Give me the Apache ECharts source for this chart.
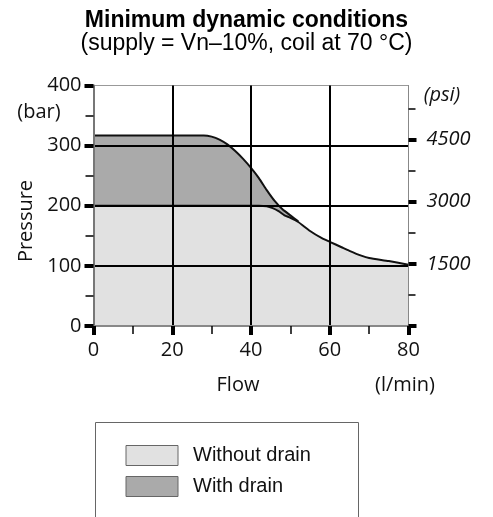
<!DOCTYPE html>
<html>
<head>
<meta charset="utf-8">
<script src="https://cdn.jsdelivr.net/npm/echarts@6/dist/echarts.min.js"></script>
<style>
html,body{margin:0;padding:0;background:#fff;}
#c{width:493px;height:517px;}
</style>
</head>
<body>
<div id="c"></div>
<script>
// Data
var withoutFlow = [0, 42, 44, 45.5, 47, 48.5, 50, 52, 55, 58, 60, 63, 65, 68, 70, 75, 80];
var withoutPressure = [200, 200, 199, 196, 191, 184, 180, 173, 158, 146, 140, 131, 125, 117, 113, 108, 102];
var withFlow = [0, 28, 30, 32, 34, 36, 38, 40, 42, 44, 46, 48, 50, 52];
var withPressure = [317, 317, 315, 310, 302, 291, 278, 263, 246, 226, 208, 194, 184, 174];
var barTicks = [0, 100, 200, 300, 400];
var flowTicks = [0, 20, 40, 60, 80];
var psiMajorTicks = [0, 1500, 3000, 4500];
var psiLabels = [1500, 3000, 4500];
var psiMinorTicks = [750, 2250, 3750, 5250];
var seriesNames = ['Without drain', 'With drain'];
var BAR_TO_PSI = 14.5038;

function zip(a, b) { return a.map(function (v, i) { return [v, b[i]]; }); }

var chart = echarts.init(document.getElementById('c'), null, {renderer: 'canvas'});
var axisFont = 'Open Sans';
var axisSize = 20;
var option = {
  animation: false,
  backgroundColor: '#fff',
  title: [
    {text: 'Minimum dynamic conditions', left: 'center', top: 4,
     textStyle: {fontFamily: 'Liberation Sans', fontWeight: 'bold', fontSize: 23, color: '#000'}},
    {text: '(supply = Vn\u201310%, coil at 70 \u00b0C)', left: 'center', top: 27,
     textStyle: {fontFamily: 'Liberation Sans', fontWeight: 'normal', fontSize: 23, color: '#000'}}
  ],
  grid: {left: 93.5, right: 84.5, top: 85.5, bottom: 191, show: true, borderColor: '#999', borderWidth: 1, backgroundColor: 'transparent'},
  legend: {
    orient: 'vertical', left: 125.5, top: 445,
    padding: 0,
    itemWidth: 52, itemHeight: 20, itemGap: 10,
    icon: 'rect',
    textStyle: {fontFamily: 'Liberation Sans', fontSize: 20, color: '#111', padding: [0, 0, 0, 10]},
    data: [
      {name: seriesNames[0], itemStyle: {color: '#e1e1e1', borderColor: '#666', borderWidth: 1}},
      {name: seriesNames[1], itemStyle: {color: '#aaaaaa', borderColor: '#666', borderWidth: 1}}
    ]
  },
  xAxis: {
    type: 'value', min: flowTicks[0], max: flowTicks[flowTicks.length - 1], interval: 20, z: 5,
    axisLine: {show: true, onZero: false, lineStyle: {color: '#888', width: 2}},
    axisTick: {show: true, length: 9, lineStyle: {color: '#000', width: 4}},
    minorTick: {show: true, splitNumber: 2, length: 8, lineStyle: {color: '#000', width: 1.5}},
    axisLabel: {margin: 14, fontFamily: axisFont, fontSize: axisSize, color: '#111'},
    splitLine: {show: true, lineStyle: {color: ['transparent', '#000', '#000', '#000', 'transparent'], width: 2}},
    minorSplitLine: {show: false}
  },
  yAxis: [
    {
      type: 'value', min: barTicks[0], max: barTicks[barTicks.length - 1], interval: 100, z: 5,
      axisLine: {show: true, lineStyle: {color: '#777', width: 2}},
      axisTick: {show: true, length: 9, lineStyle: {color: '#000', width: 4}},
      minorTick: {show: true, splitNumber: 2, length: 8, lineStyle: {color: '#000', width: 1.5}},
      axisLabel: {margin: 12, fontFamily: axisFont, fontSize: axisSize, color: '#111'},
      splitLine: {show: true, lineStyle: {color: ['transparent', '#000', '#000', '#000', 'transparent'], width: 2}},
      minorSplitLine: {show: false}
    },
    {
      type: 'value', position: 'right', min: 0, max: barTicks[barTicks.length - 1] * BAR_TO_PSI, z: 5,
      axisLine: {show: true, lineStyle: {color: '#888', width: 1}},
      axisTick: {show: true, length: 8, customValues: psiMajorTicks, lineStyle: {color: '#000', width: 4}},
      axisLabel: {margin: 18, customValues: psiLabels, formatter: function (v) { return String(v); },
                  fontFamily: axisFont, fontStyle: 'italic', fontSize: axisSize, color: '#111'},
      splitLine: {show: false}
    },
    {
      type: 'value', position: 'right', min: 0, max: barTicks[barTicks.length - 1] * BAR_TO_PSI, z: 5,
      axisLine: {show: false},
      axisTick: {show: true, length: 7, customValues: psiMinorTicks, lineStyle: {color: '#000', width: 1.5}},
      axisLabel: {show: false},
      splitLine: {show: false}
    }
  ],
  graphic: [
    {type: 'rect', shape: {x: 95.5, y: 422.5, width: 263, height: 120}, style: {fill: 'none', stroke: '#666', lineWidth: 1}, z: -1},
    {type: 'text', x: 39, y: 112, style: {text: '(bar)', font: axisSize + 'px "Open Sans"', fill: '#111', align: 'center', verticalAlign: 'middle'}},
    {type: 'text', x: 26, y: 221, rotation: Math.PI / 2, style: {text: 'Pressure', font: axisSize + 'px "Open Sans"', fill: '#111', align: 'center', verticalAlign: 'middle'}},
    {type: 'text', x: 442, y: 95, style: {text: '(psi)', font: 'italic ' + axisSize + 'px "Open Sans"', fill: '#111', align: 'center', verticalAlign: 'middle'}},
    {type: 'text', x: 238, y: 385, style: {text: 'Flow', font: axisSize + 'px "Open Sans"', fill: '#111', align: 'center', verticalAlign: 'middle'}},
    {type: 'text', x: 405, y: 385, style: {text: '(l/min)', font: axisSize + 'px "Open Sans"', fill: '#111', align: 'center', verticalAlign: 'middle'}}
  ],
  series: [
    {
      name: seriesNames[1], type: 'line', data: zip(withFlow, withPressure), smooth: 0.2,
      showSymbol: false, symbol: 'none', z: 2,
      lineStyle: {color: '#111', width: 2},
      itemStyle: {color: '#aaaaaa'},
      areaStyle: {color: '#aaaaaa', opacity: 1}
    },
    {
      name: seriesNames[0], type: 'line', data: zip(withoutFlow, withoutPressure), smooth: 0.2,
      showSymbol: false, symbol: 'none', z: 3,
      lineStyle: {color: '#111', width: 2},
      itemStyle: {color: '#e1e1e1'},
      areaStyle: {color: '#e1e1e1', opacity: 1}
    }
  ]
};
chart.setOption(option);
</script>
</body>
</html>
